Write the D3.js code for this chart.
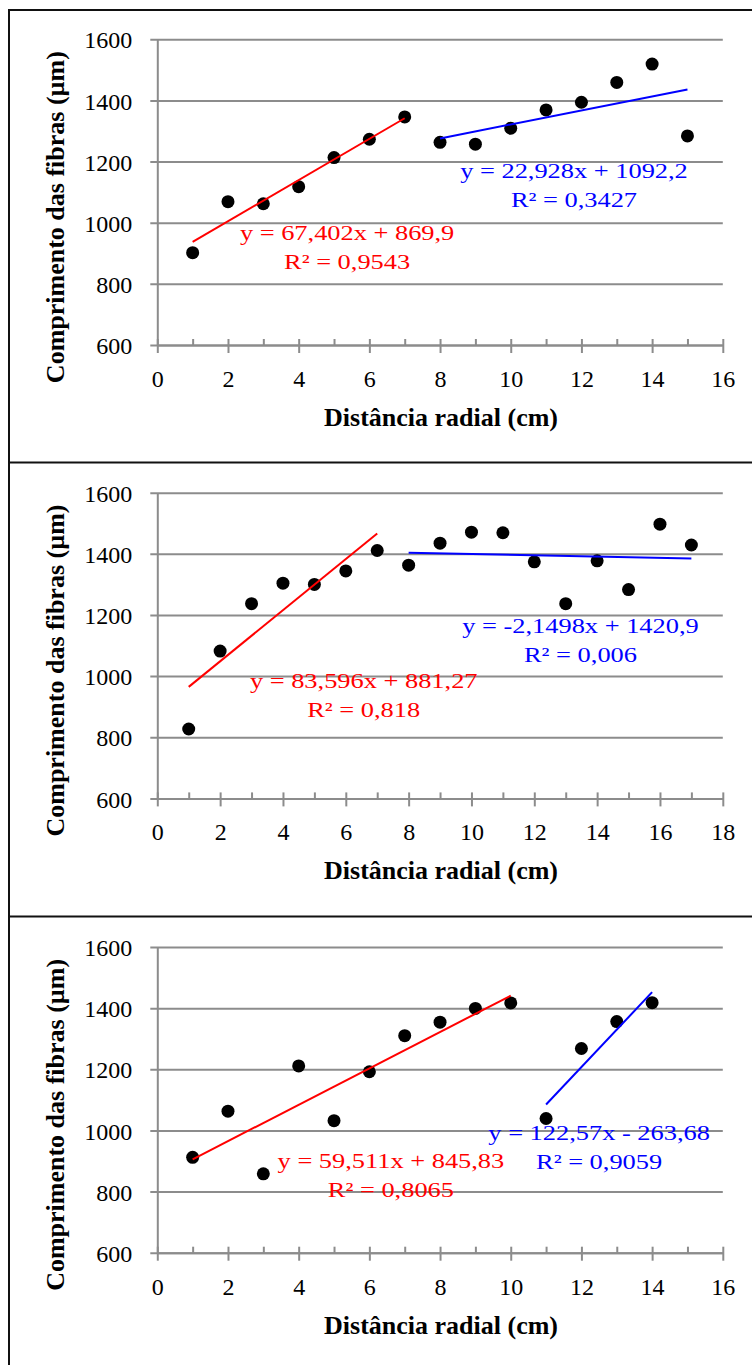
<!DOCTYPE html>
<html>
<head>
<meta charset="utf-8">
<script src="https://d3js.org/d3.v7.min.js"></script>
<style>
  body { margin: 0; background: #fff; }
  svg text { font-family: "Times New Roman", "Liberation Serif", serif; }
</style>
</head>
<body>
<div id="chart"></div>
<script>
// values
const dist1 = [1,2,3,4,5,6,7,8,9,10,11,12,13,14,15];
const fib1  = [902,1069,1062,1118,1213,1273,1346,1263,1257,1309,1369,1394,1459,1519,1284];
const dist2 = [1,2,3,4,5,6,7,8,9,10,11,12,13,14,15,16,17];
const fib2  = [827,1082,1237,1304,1300,1344,1411,1363,1435,1471,1469,1374,1237,1377,1283,1497,1429];
const dist3 = [1,2,3,4,5,6,7,8,9,10,11,12,13,14];
const fib3  = [912,1063,858,1211,1032,1192,1310,1354,1399,1417,1039,1268,1356,1418];

const yTicks = [600,800,1000,1200,1400,1600];
const xMax = [16,18,16];

// trend lines: [slope, intercept], [from, to]
const redFit   = [[67.402,869.9],[83.596,881.27],[59.511,845.83]];
const redSpan  = [[1,7],[1,7],[1,10]];
const blueFit  = [[22.928,1092.2],[-2.1498,1420.9],[122.57,-263.68]];
const blueSpan = [[8,15],[8,17],[11,14]];

const redEq  = ["y = 67,402x + 869,9","y = 83,596x + 881,27","y = 59,511x + 845,83"];
const redR2  = ["R² = 0,9543","R² = 0,818","R² = 0,8065"];
const blueEq = ["y = 22,928x + 1092,2","y = -2,1498x + 1420,9","y = 122,57x - 263,68"];
const blueR2 = ["R² = 0,3427","R² = 0,006","R² = 0,9059"];

// label anchor spots in data units (x, y of first baseline)
const redAt  = [[5.37,945],[6.57,961],[6.61,877]];
const blueAt = [[11.79,1145],[13.47,1141],[12.5,968]];

const panels = [[dist1,fib1],[dist2,fib2],[dist3,fib3]];

const W = 752, H = 1365;
const panelOffset = [0, 453.4, 907.7];
const plotL = 157.3, plotR = 722.8, plotT = 39.3, plotB = 345;
const grey = "#8c8c8c";

const svg = d3.select("#chart").append("svg")
  .attr("width", W).attr("height", H);

// table frame
svg.append("rect")
  .attr("x", 9).attr("y", 10).attr("width", 800).attr("height", 1400)
  .attr("fill", "none").attr("stroke", "#111").attr("stroke-width", 2);
[462.5, 916.5].forEach(function(yy) {
  svg.append("line").attr("x1", 9).attr("x2", W).attr("y1", yy).attr("y2", yy)
    .attr("stroke", "#111").attr("stroke-width", 2);
});

panels.forEach(function(p, i) {
  const g = svg.append("g").attr("transform", "translate(0," + panelOffset[i] + ")");
  const x = d3.scaleLinear().domain([0, xMax[i]]).range([plotL, plotR]);
  const y = d3.scaleLinear().domain([600, 1600]).range([plotB, plotT]);

  // gridlines + y labels
  const ya = g.append("g").attr("transform", "translate(" + plotL + ",0)")
    .call(d3.axisLeft(y).tickValues(yTicks).tickFormat(d3.format("d"))
      .tickSizeInner(7).tickSizeOuter(0).tickPadding(18));
  ya.selectAll(".tick line").remove();
  ya.select(".domain").attr("stroke", grey).attr("stroke-width", 2);
  ya.selectAll("text").attr("font-size", 24).attr("fill", "#000")
    .attr("dy", "0.36em");
  ya.selectAll(".tick").append("line")
    .attr("x1", -7).attr("x2", plotR - plotL)
    .attr("stroke", grey).attr("stroke-width", 2);

  // x axis: major crossing ticks with labels, minor inside ticks
  const evens = d3.range(0, xMax[i] + 1, 2);
  const odds = d3.range(1, xMax[i], 2);
  const xa = g.append("g").attr("transform", "translate(0," + plotB + ")")
    .call(d3.axisBottom(x).tickValues(evens).tickFormat(d3.format("d"))
      .tickSizeOuter(0).tickSizeInner(8));
  xa.select(".domain").attr("stroke", grey).attr("stroke-width", 2);
  xa.selectAll(".tick line").attr("y1", -6).attr("y2", 8)
    .attr("stroke", grey).attr("stroke-width", 2);
  xa.selectAll("text").attr("font-size", 24).attr("fill", "#000")
    .attr("y", 42).attr("dy", null);
  const xm = g.append("g").attr("transform", "translate(0," + plotB + ")")
    .call(d3.axisBottom(x).tickValues(odds).tickSize(-6).tickFormat(""));
  xm.select(".domain").remove();
  xm.selectAll(".tick line").attr("stroke", grey).attr("stroke-width", 2);

  // points
  g.append("g").selectAll("circle")
    .data(p[0].map(function(d, k) { return [d, p[1][k]]; }))
    .enter().append("circle")
    .attr("cx", function(d) { return x(d[0]); })
    .attr("cy", function(d) { return y(d[1]); })
    .attr("r", 6.5).attr("fill", "#000");

  // trend lines
  function trend(fit, span, col) {
    g.append("line")
      .attr("x1", x(span[0])).attr("y1", y(fit[0] * span[0] + fit[1]))
      .attr("x2", x(span[1])).attr("y2", y(fit[0] * span[1] + fit[1]))
      .attr("stroke", col).attr("stroke-width", 2);
  }
  trend(redFit[i], redSpan[i], "#ff0000");
  trend(blueFit[i], blueSpan[i], "#0000ff");

  function label(at, l1, l2, col) {
    const cx = x(at[0]), cy = y(at[1]);
    [l1, l2].forEach(function(t, k) {
      g.append("text")
        .attr("transform", "translate(" + cx + "," + (cy + k * 29) + ") scale(1.2,1)")
        .attr("text-anchor", "middle").attr("font-size", 22)
        .attr("fill", col).text(t);
    });
  }
  label(redAt[i], redEq[i], redR2[i], "#ff0000");
  label(blueAt[i], blueEq[i], blueR2[i], "#0000ff");

  // axis titles
  g.append("text")
    .attr("transform", "translate(64," + ((plotT + plotB) / 2 + 25) + ") rotate(-90)")
    .attr("text-anchor", "middle").attr("font-size", 26).attr("font-weight", "bold")
    .text("Comprimento das fibras (µm)");
  g.append("text")
    .attr("x", (plotL + plotR) / 2 + 1).attr("y", plotB + 81)
    .attr("text-anchor", "middle").attr("font-size", 26).attr("font-weight", "bold")
    .text("Distância radial (cm)");
});
</script>
</body>
</html>
